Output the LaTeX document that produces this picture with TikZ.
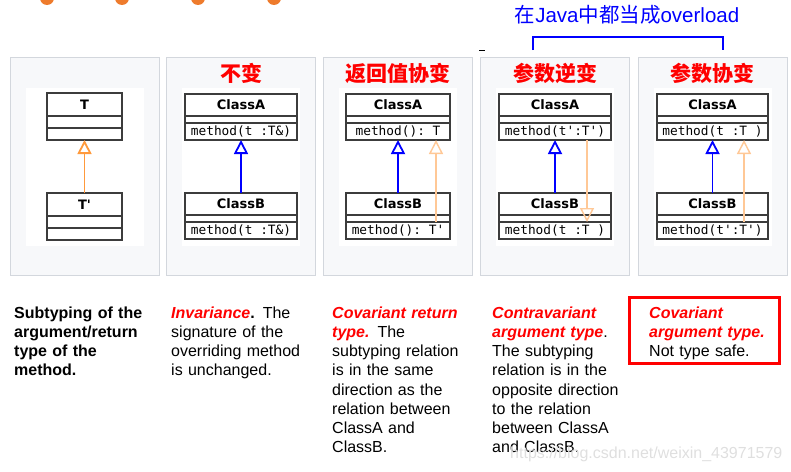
\documentclass[tikz,border=0pt]{standalone}
\usepackage{fontspec}
\setmainfont{Liberation Sans}
\setmonofont{DejaVu Sans Mono}
\newfontfamily\cjk{Noto Sans CJK SC}
\newfontfamily\umlsans{DejaVu Sans}[Ligatures=TeXOff]
\usetikzlibrary{positioning,arrows.meta}

\definecolor{panelbg}{HTML}{F7F8FA}
\definecolor{panelrule}{HTML}{D3D7DD}
\definecolor{dotorange}{HTML}{EE7B2C}
\definecolor{typearrow}{HTML}{FF9A3C}
\definecolor{palearrow}{HTML}{FFC896}
\definecolor{umlgray}{HTML}{3C3C3C}

\tikzset{
  panel/.style={draw=panelrule, fill=panelbg, line width=1pt, minimum width=149pt, minimum height=218pt, inner sep=0pt},
  sheet/.style={fill=white, minimum width=118pt, minimum height=158pt, inner sep=0pt},
  clsname/.style={draw=umlgray, line width=1.2pt, fill=white, minimum width=112pt, minimum height=22pt, inner sep=0pt, outer sep=0pt, font=\umlsans\bfseries\fontsize{13}{15}\selectfont},
  clsfield/.style={clsname, minimum height=7pt},
  clsop/.style={clsname, minimum height=17pt, font=\ttfamily\fontsize{12.8}{15}\selectfont},
  inherit/.style={blue, line width=1.8pt, -{Triangle[open, width=14pt, length=14pt]}},
  typeinherit/.style={inherit, typearrow},
  paleinherit/.style={palearrow, line width=1.4pt, -{Triangle[open, width=14pt, length=14pt]}},
  heading/.style={red, font=\cjk\bfseries\fontsize{21}{24}\selectfont},
  remark/.style={anchor=north west, inner sep=0pt, text width=150pt, align=left, font=\fontsize{16}{19.25}\selectfont},
}

\begin{document}
\begin{tikzpicture}[x=1pt, y=-1pt]
    \clip (0,0) rectangle (791,471);

    % Bullets cut off at the top edge
    \foreach \x in {47,122,198,274} {
        \fill[dotorange] (\x,-2) circle (7pt);
    }

    % Panels with their white sheets
    \foreach \x/\n in {10/1,166/2,323/3,480/4,638/5} {
        \node[panel, anchor=north west] (p\n) at (\x,57) {};
        \node[sheet] (s\n) at (p\n.center) {};
    }

    % Overload bracket over the last two panels
    \node[blue, font=\fontsize{20.5}{24}\selectfont] (ovl) at (627,15) {{\cjk 在}Java{\cjk 中都当成}overload};
    \coordinate (brl) at (533,50);
    \coordinate (brr) at (723,50);
    \draw[blue, line width=1.8pt] (brl) -- ++(0,-13) -| (brr);
    \coordinate (dsl) at (479,50);
    \coordinate (dsr) at (485,50);
    \draw[line width=1pt] (dsl) -- (dsr);

    % Titles
    \node[heading] (h2) at (241,73.5) {不变};
    \node[heading] (h3) at (398,73.5) {返回值协变};
    \node[heading] (h4) at (555,73.5) {参数逆变};
    \node[heading] (h5) at (712.5,73.5) {参数协变};

    % Panel 1: T and T'
    \node[clsname, minimum width=75pt, minimum height=23pt, anchor=north] (tn) at (84.5,93) {T};
    \node[clsfield, minimum width=75pt, minimum height=12pt, below=0pt of tn] (tf) {};
    \node[clsfield, minimum width=75pt, minimum height=12pt, below=0pt of tf] (tm) {};
    \node[clsname, minimum width=75pt, minimum height=23pt, anchor=north] (un) at (84.5,193) {T'};
    \node[clsfield, minimum width=75pt, minimum height=12pt, below=0pt of un] (uf) {};
    \node[clsfield, minimum width=75pt, minimum height=12pt, below=0pt of uf] (um) {};
    \draw[typeinherit] (un.north) -- (tm.south);

    % Panels 2-5: ClassA and ClassB
    \foreach \n/\cx/\w/\ma/\mb in {
        2/241/112/{method(t :T\&)}/{method(t :T\&)},
        3/398/104/{method(): T}/{method(): T'},
        4/555/112/{method(t':T')}/{method(t :T )},
        5/712.5/111/{method(t :T )}/{method(t':T')}} {
        \node[clsname, minimum width=\w pt, anchor=north] (an\n) at (\cx,94) {ClassA};
        \node[clsfield, minimum width=\w pt, below=0pt of an\n] (af\n) {};
        \node[clsop, minimum width=\w pt, below=0pt of af\n] (am\n) {\ma};
        \node[clsname, minimum width=\w pt, anchor=north] (bn\n) at (\cx,193) {ClassB};
        \node[clsfield, minimum width=\w pt, below=0pt of bn\n] (bf\n) {};
        \node[clsop, minimum width=\w pt, below=0pt of bf\n] (bm\n) {\mb};
        \draw[inherit] (bn\n.north) -- (am\n.south);
    }

    % Subtyping of the types
    \draw[paleinherit] ([xshift=38pt]bm3.north) -- ([xshift=38pt]am3.south);
    \draw[paleinherit] ([xshift=32pt]am4.south) -- ([xshift=32pt]bm4.north);
    \draw[paleinherit] ([xshift=31.5pt]bm5.north) -- ([xshift=31.5pt]am5.south);

    % Remarks below the panels
    \node[remark, font=\bfseries\fontsize{16}{19.25}\selectfont] (c1) at (14,306.3)
        {Subtyping of the\\argument/return\\type of the\\method.};
    \node[remark] (c2) at (171,306.3)
        {\textcolor{red}{\bfseries\itshape Invariance}\textbf{.} The\\signature of the\\overriding method\\is unchanged.};
    \node[remark] (c3) at (332,306.3)
        {\textcolor{red}{\bfseries\itshape Covariant return\\type.} The\\subtyping relation\\is in the same\\direction as the\\relation between\\ClassA and\\ClassB.};
    \node[remark] (c4) at (492,306.3)
        {\textcolor{red}{\bfseries\itshape Contravariant\\argument type}.\\The subtyping\\relation is in the\\opposite direction\\to the relation\\between ClassA\\and ClassB.};
    \node[draw=red, line width=3pt, minimum width=150pt, minimum height=66pt, inner sep=0pt, outer sep=0pt, anchor=north west] (warn) at (629.5,297.5) {};
    \node[remark] (c5) at (649,306.3)
        {\textcolor{red}{\bfseries\itshape Covariant\\argument type.}\\Not type safe.};

    % Watermark
    \node[anchor=base west, inner sep=0pt, text=gray!25, font=\fontsize{16}{19}\selectfont] (wm) at (510,458) {https://blog.csdn.net/weixin\_43971579};
\end{tikzpicture}
\end{document}
